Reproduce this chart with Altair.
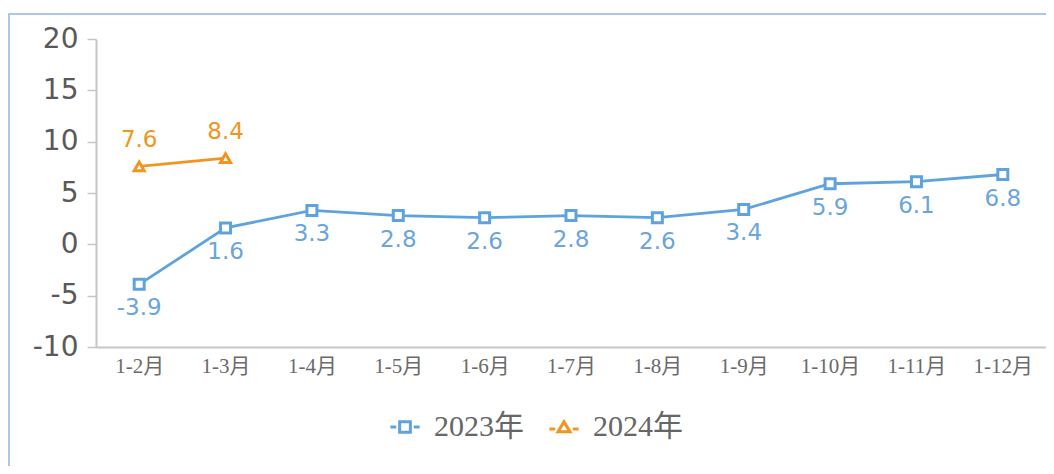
import altair as alt
import pandas as pd

months = ["1-2月", "1-3月", "1-4月", "1-5月", "1-6月", "1-7月", "1-8月", "1-9月", "1-10月", "1-11月", "1-12月"]
v2023 = [-3.9, 1.6, 3.3, 2.8, 2.6, 2.8, 2.6, 3.4, 5.9, 6.1, 6.8]
months_2024 = ["1-2月", "1-3月"]
v2024 = [7.6, 8.4]
series = ["2023年", "2024年"]
colors = ["#5fa3de", "#f29520"]
y_ticks = [-10, -5, 0, 5, 10, 15, 20]

rows = [{"m": m, "v": v, "s": series[0], "t": f"{v:.1f}"} for m, v in zip(months, v2023)]
rows += [{"m": m, "v": v, "s": series[1], "t": f"{v:.1f}"} for m, v in zip(months_2024, v2024)]
df = pd.DataFrame(rows)
df["s2"] = df["s"]

SQ_LEG = "M-1.5,0H-0.9M0.9,0H1.5M-0.55,-0.55H0.55V0.55H-0.55Z"
TR_LEG = "M-1.5,0.2H-0.9M0.9,0.2H1.5M0,-0.55L0.62,0.5H-0.62Z"

x = alt.X("m:N", sort=months, title=None,
          scale=alt.Scale(domain=months, padding=0.5),
          axis=alt.Axis(labelAngle=0, ticks=False, domainColor="#c6c6c6", domainWidth=2,
                        labelFont="Liberation Serif, Noto Sans CJK SC", labelFontSize=21,
                        labelColor="#6a6a6a", labelPadding=8))
y = alt.Y("v:Q", title=None,
          scale=alt.Scale(domain=[-10, 20], nice=False, zero=False),
          axis=alt.Axis(values=y_ticks, grid=False, domainColor="#c6c6c6", domainWidth=2,
                        tickColor="#c6c6c6", tickSize=9, tickWidth=1.5,
                        labelExpr="datum.value + ''",
                        labelFont="DejaVu Sans", labelFontSize=28, labelColor="#595959",
                        labelPadding=9))
color = alt.Color("s:N", scale=alt.Scale(domain=series, range=colors), legend=None)
shape = alt.Shape("s:N", scale=alt.Scale(domain=series, range=["square", "triangle-up"]),
                  legend=None)

leg = alt.Legend(title=None, orient="none", legendX=294, legendY=373,
                 direction="horizontal", columns=2, columnPadding=19,
                 labelFont="Liberation Serif, Noto Sans CJK SC",
                 labelFontSize=30, labelColor="#666666",
                 symbolSize=380, symbolStrokeWidth=3, labelOffset=14,
                 symbolFillColor="white", symbolOpacity=1)

base = alt.Chart(df)
lines = base.mark_line(strokeWidth=2.8).encode(x=x, y=y, color=color, detail="s:N")
points = base.mark_point(filled=False, fill="white", fillOpacity=1, size=100, strokeWidth=3,
                         opacity=1).encode(x=x, y=y, color=color, shape=shape)
legend_layer = base.mark_point(filled=False, opacity=0).encode(
    x=x, y=y,
    color=alt.Color("s2:N", scale=alt.Scale(domain=series, range=colors), legend=leg),
    shape=alt.Shape("s2:N", scale=alt.Scale(domain=series, range=[SQ_LEG, TR_LEG]), legend=leg))
lab23 = alt.Chart(df[df.s == series[0]]).mark_text(
    font="DejaVu Sans", fontSize=23, dy=24, color="#6aa5dc").encode(
    x=x, y=y, text="t:N")
lab24 = alt.Chart(df[df.s == series[1]]).mark_text(
    font="DejaVu Sans", fontSize=23, dy=-26, color=colors[1]).encode(
    x=x, y=y, text="t:N")

frame = alt.Chart(pd.DataFrame({"a": [0]})).mark_rect(
    fill=None, stroke="#a8c8ea", strokeWidth=2, clip=False).encode(
    x=alt.value(-87), x2=alt.value(1100), y=alt.value(-25), y2=alt.value(600))

chart = alt.layer(frame, lines, points, legend_layer, lab23, lab24).resolve_scale(
    color="independent", shape="independent"
).properties(
    width=950, height=308,
    autosize=alt.AutoSizeParams(type="none"),
    padding={"left": 88, "top": 31, "right": 0, "bottom": 119},
).configure(background="white").configure_view(stroke=None)

chart.save("out.html", embed_options={"renderer": "svg", "actions": False})
